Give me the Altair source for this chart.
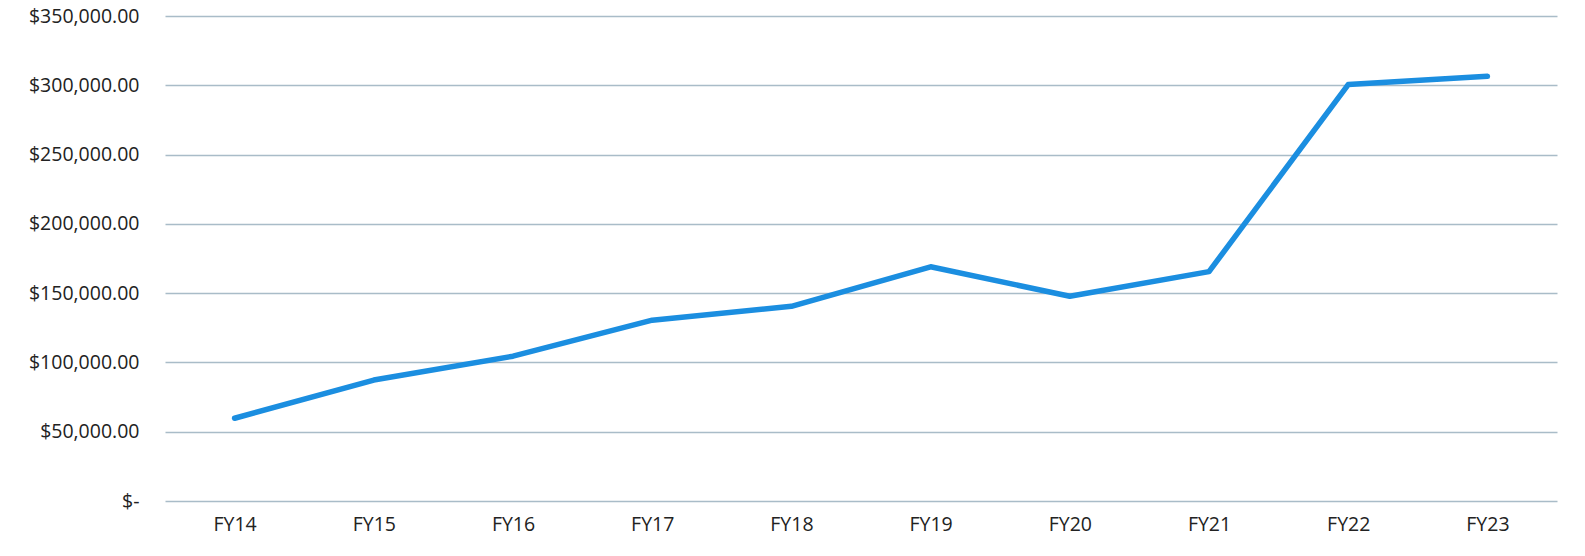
import altair as alt
import pandas as pd

years = ["FY14", "FY15", "FY16", "FY17", "FY18", "FY19", "FY20", "FY21", "FY22", "FY23"]
amounts = [59700, 87300, 104500, 130500, 140500, 169000, 147800, 165500, 300500, 306500]
y_ticks = [0, 50000, 100000, 150000, 200000, 250000, 300000, 350000]

df = pd.DataFrame({"year": years, "amount": amounts})

chart = (
    alt.Chart(df)
    .mark_line(color="#1b8ee0", strokeWidth=5.5, strokeCap="round", strokeJoin="round")
    .encode(
        x=alt.X(
            "year:N",
            sort=None,
            scale=alt.Scale(padding=0.5),
            axis=alt.Axis(
                title=None, labelAngle=0, ticks=False, domain=False, grid=False,
                labelFont="Open Sans", labelFontSize=19.5, labelColor="#222222",
                labelPadding=14,
            ),
        ),
        y=alt.Y(
            "amount:Q",
            scale=alt.Scale(domain=[0, 350000], nice=False),
            axis=alt.Axis(
                title=None, values=y_ticks, ticks=False, domain=False,
                gridColor="#a9bcc8", gridWidth=1.4,
                labelFont="Open Sans", labelFontSize=19.5, labelColor="#222222",
                labelPadding=26,
                labelExpr="datum.value == 0 ? '$-\u00a0\u00a0\u00a0\u00a0' : format(datum.value, '$,.2f')",
            ),
        ),
    )
    .properties(
        width=1392,
        height=485,
        autosize=alt.AutoSizeParams(type="none"),
        padding={"left": 165, "top": 16, "right": 28, "bottom": 55},
        background="white",
    )
    .configure_view(stroke=None)
)

chart.save("out.html", embed_options={"renderer": "svg", "actions": False})
